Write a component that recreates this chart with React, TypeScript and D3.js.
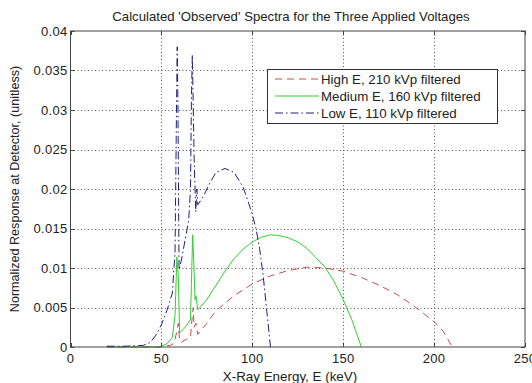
import React, { useEffect, useRef } from 'react';
import * as d3 from 'd3';

const W = 532;
const H = 383;

// High E, 210 kVp filtered
const highE = [20, 30, 40, 50, 52, 55, 57, 58.5, 59.3, 60, 61, 63, 66, 67, 67.5, 68, 69, 70, 75, 80, 90, 100, 110, 120, 130, 140, 150, 160, 170, 180, 190, 200, 205, 210];
const highY = [0, 0, 0, 0, 0.0001, 0.0002, 0.0005, 0.002, 0.003, 0.0008, 0.0006, 0.0009, 0.0012, 0.004, 0.005, 0.0025, 0.003, 0.0016, 0.003, 0.0046, 0.0065, 0.008, 0.009, 0.0097, 0.0101, 0.01, 0.0096, 0.0088, 0.0078, 0.0066, 0.005, 0.0032, 0.002, 0];

// Medium E, 160 kVp filtered
const medE = [20, 30, 40, 48, 50, 53, 56, 57.5, 58.5, 59.3, 60, 62, 64, 66, 66.5, 67.2, 67.8, 68.5, 69, 70, 75, 80, 85, 90, 95, 100, 105, 110, 115, 120, 125, 130, 135, 140, 145, 150, 155, 158, 160];
const medY = [0, 0, 0, 0, 0.0001, 0.0004, 0.0012, 0.004, 0.0114, 0.009, 0.0018, 0.0022, 0.0028, 0.0035, 0.008, 0.0142, 0.011, 0.006, 0.0065, 0.0047, 0.006, 0.0078, 0.0096, 0.0112, 0.0124, 0.0133, 0.0139, 0.0142, 0.0141, 0.0138, 0.0133, 0.0125, 0.0113, 0.0101, 0.0083, 0.006, 0.0033, 0.0013, 0];

// Low E, 110 kVp filtered
const lowE = [20, 30, 40, 44, 47, 50, 53, 56, 57.5, 58.3, 58.7, 59.1, 59.7, 61, 63, 65, 66, 66.5, 67, 67.4, 68, 68.9, 69.5, 70, 73, 76, 80, 85, 90, 95, 98, 100, 102, 104, 106, 108, 110];
const lowY = [0.0001, 0.0001, 0.0002, 0.0006, 0.0015, 0.0028, 0.0046, 0.0068, 0.012, 0.03, 0.038, 0.031, 0.0098, 0.011, 0.0135, 0.016, 0.02, 0.031, 0.037, 0.032, 0.024, 0.0171, 0.02, 0.018, 0.019, 0.0205, 0.0221, 0.0226, 0.0221, 0.0202, 0.0182, 0.0168, 0.015, 0.0125, 0.009, 0.0045, 0];

const xTicks = [0, 50, 100, 150, 200, 250];
const yTicks = [0, 0.005, 0.01, 0.015, 0.02, 0.025, 0.03, 0.035, 0.04];

const series = [
  { label: 'High E, 210 kVp filtered', xs: highE, ys: highY, color: '#c84a4a', dash: '7,5' },
  { label: 'Medium E, 160 kVp filtered', xs: medE, ys: medY, color: '#2fd02f', dash: null },
  { label: 'Low E, 110 kVp filtered', xs: lowE, ys: lowY, color: '#20207c', dash: '8,3,1.5,3' },
];

const App = () => {
  const svgRef = useRef(null);

  useEffect(() => {
    const svg = d3.select(svgRef.current);
    svg.selectAll('*').remove();

    const left = 70.5, right = 525, top = 31, bottom = 347;
    const x = d3.scaleLinear().domain([0, 250]).range([left, right]);
    const y = d3.scaleLinear().domain([0, 0.04]).range([bottom, top]);
    const font = 'Arial, "Liberation Sans", sans-serif';

    svg.append('rect').attr('width', W).attr('height', H).attr('fill', '#fff');

    // grid
    const grid = svg.append('g').attr('stroke', '#555').attr('stroke-width', 1).attr('stroke-dasharray', '1,2.5');
    xTicks.slice(1, -1).forEach(t => {
      grid.append('line').attr('x1', Math.round(x(t)) + 0.5).attr('x2', Math.round(x(t)) + 0.5)
        .attr('y1', top).attr('y2', bottom);
    });
    yTicks.slice(1, -1).forEach(t => {
      grid.append('line').attr('y1', Math.round(y(t)) + 0.5).attr('y2', Math.round(y(t)) + 0.5)
        .attr('x1', left).attr('x2', right);
    });

    // lines
    series.forEach(s => {
      const pts = s.xs.map((e, i) => [e, s.ys[i]]);
      const line = d3.line().x(d => x(d[0])).y(d => y(d[1]));
      const p = svg.append('path').datum(pts).attr('d', line)
        .attr('fill', 'none').attr('stroke', s.color).attr('stroke-width', 1);
      if (s.dash) p.attr('stroke-dasharray', s.dash);
    });

    // box + ticks
    svg.append('rect').attr('x', left).attr('y', top).attr('width', right - left).attr('height', bottom - top)
      .attr('fill', 'none').attr('stroke', '#444').attr('stroke-width', 1);
    const tk = svg.append('g').attr('stroke', '#444');
    xTicks.forEach(t => {
      const px = Math.round(x(t)) + 0.5;
      tk.append('line').attr('x1', px).attr('x2', px).attr('y1', bottom).attr('y2', bottom - 4);
      tk.append('line').attr('x1', px).attr('x2', px).attr('y1', top).attr('y2', top + 4);
    });
    yTicks.forEach(t => {
      const py = Math.round(y(t)) + 0.5;
      tk.append('line').attr('y1', py).attr('y2', py).attr('x1', left).attr('x2', left + 4);
      tk.append('line').attr('y1', py).attr('y2', py).attr('x1', right).attr('x2', right - 4);
    });

    // tick labels
    const lab = svg.append('g').attr('font-family', font).attr('font-size', 13).attr('fill', '#222')
      .attr('letter-spacing', 0.3);
    xTicks.forEach(t => {
      lab.append('text').attr('x', x(t)).attr('y', bottom + 16).attr('text-anchor', 'middle').text(t);
    });
    yTicks.forEach(t => {
      lab.append('text').attr('x', left - 3).attr('y', y(t) + 4.5).attr('text-anchor', 'end').text(t);
    });

    // titles
    svg.append('text').attr('x', 291).attr('y', 21).attr('text-anchor', 'middle')
      .attr('font-family', font).attr('font-size', 13.2).attr('fill', '#222')
      .text("Calculated 'Observed' Spectra for the Three Applied Voltages");
    svg.append('text').attr('x', 290).attr('y', 381).attr('text-anchor', 'middle')
      .attr('font-family', font).attr('font-size', 13.4).attr('fill', '#222')
      .text('X-Ray Energy, E (keV)');
    svg.append('text').attr('transform', `translate(19,${(top + bottom) / 2}) rotate(-90)`)
      .attr('text-anchor', 'middle').attr('font-family', font).attr('font-size', 12.6).attr('fill', '#222')
      .text('Normalized Response at Detector, (unitless)');

    // legend
    const lg = svg.append('g');
    lg.append('rect').attr('x', 267.5).attr('y', 69.5).attr('width', 230).attr('height', 54)
      .attr('fill', '#fff').attr('stroke', '#333');
    series.forEach((s, i) => {
      const ly = 79 + i * 17;
      const l = lg.append('line').attr('x1', 275).attr('x2', 319).attr('y1', ly).attr('y2', ly)
        .attr('stroke', s.color).attr('stroke-width', 1);
      if (s.dash) l.attr('stroke-dasharray', s.dash);
      lg.append('text').attr('x', 321).attr('y', ly + 4.5).attr('font-family', font).attr('font-size', 13.3)
        .attr('fill', '#222').text(s.label);
    });
  }, []);

  return (
    <svg ref={svgRef} width={W} height={H} style={{ position: 'absolute', left: 0, top: 0 }}></svg>
  );
};

export default App;
